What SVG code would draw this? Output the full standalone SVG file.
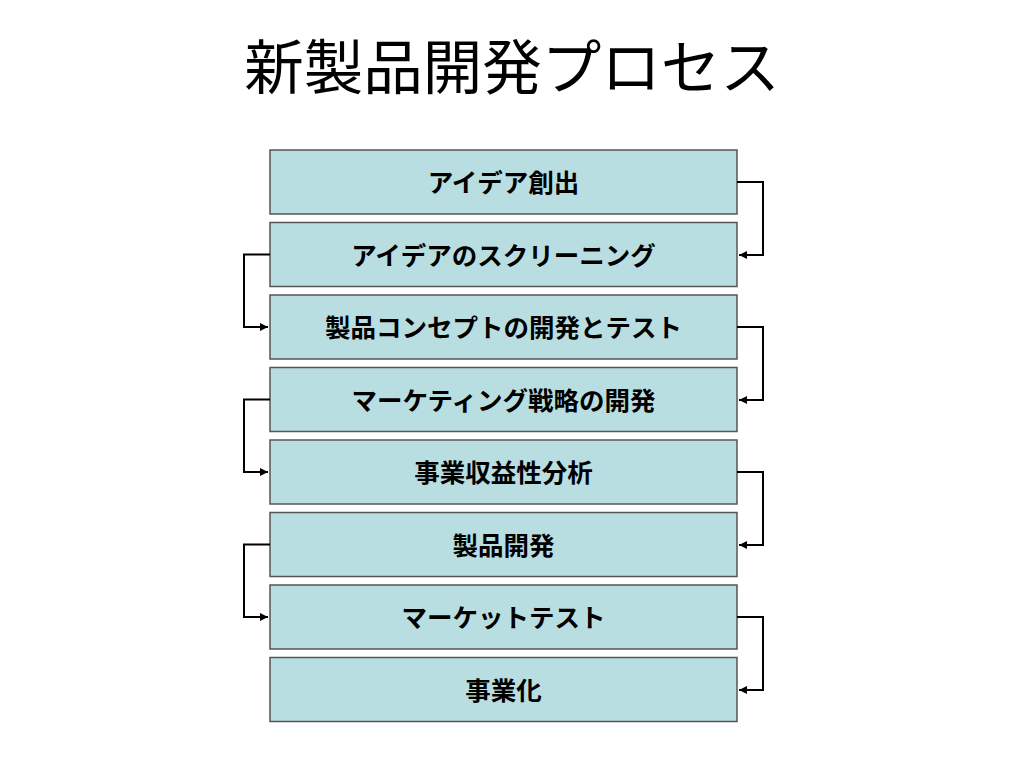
<svg xmlns="http://www.w3.org/2000/svg" width="1024" height="768" viewBox="0 0 1024 768">
<style>
.title{font-family:"Noto Sans CJK JP","Noto Sans CJK SC",sans-serif;font-size:59.5px;fill:#000;text-anchor:middle}
.box{fill:#B9DEE1;stroke:#555;stroke-width:1.5}
.lbl{font-family:"Noto Sans CJK JP","Noto Sans CJK SC",sans-serif;font-size:25.5px;font-weight:bold;fill:#000;text-anchor:middle}
.conn{fill:none;stroke:#000;stroke-width:2}
</style>
<defs>
<marker id="arr" viewBox="0 0 10 10" refX="10" refY="5" markerWidth="4.5" markerHeight="4" orient="auto" markerUnits="strokeWidth">
<path d="M0,0 L10,5 L0,10 Z" fill="#000"/>
</marker>
</defs>
<rect width="1024" height="768" fill="#fff"/>
<text class="title" x="512" y="89">新製品開発プロセス</text>
<g id="n1"><rect class="box" x="270" y="150" width="467" height="64"/><text class="lbl" x="503.5" y="192">アイデア創出</text></g>
<g id="n2"><rect class="box" x="270" y="222.5" width="467" height="64"/><text class="lbl" x="503.5" y="264.5">アイデアのスクリーニング</text></g>
<g id="n3"><rect class="box" x="270" y="295" width="467" height="64"/><text class="lbl" x="503.5" y="337">製品コンセプトの開発とテスト</text></g>
<g id="n4"><rect class="box" x="270" y="367.5" width="467" height="64"/><text class="lbl" x="503.5" y="409.5">マーケティング戦略の開発</text></g>
<g id="n5"><rect class="box" x="270" y="440" width="467" height="64"/><text class="lbl" x="503.5" y="482">事業収益性分析</text></g>
<g id="n6"><rect class="box" x="270" y="512.5" width="467" height="64"/><text class="lbl" x="503.5" y="554.5">製品開発</text></g>
<g id="n7"><rect class="box" x="270" y="585" width="467" height="64"/><text class="lbl" x="503.5" y="627">マーケットテスト</text></g>
<g id="n8"><rect class="box" x="270" y="657.5" width="467" height="64"/><text class="lbl" x="503.5" y="699.5">事業化</text></g>
<g id="connectors">
<path class="conn" marker-end="url(#arr)" d="M737,182 H763 V255 H739"/>
<path class="conn" marker-end="url(#arr)" d="M270,254.5 H244 V327 H268"/>
<path class="conn" marker-end="url(#arr)" d="M737,327 H763 V400 H739"/>
<path class="conn" marker-end="url(#arr)" d="M270,399.5 H244 V472 H268"/>
<path class="conn" marker-end="url(#arr)" d="M737,472 H763 V545 H739"/>
<path class="conn" marker-end="url(#arr)" d="M270,544.5 H244 V617 H268"/>
<path class="conn" marker-end="url(#arr)" d="M737,617 H763 V690 H739"/>
</g>
</svg>
